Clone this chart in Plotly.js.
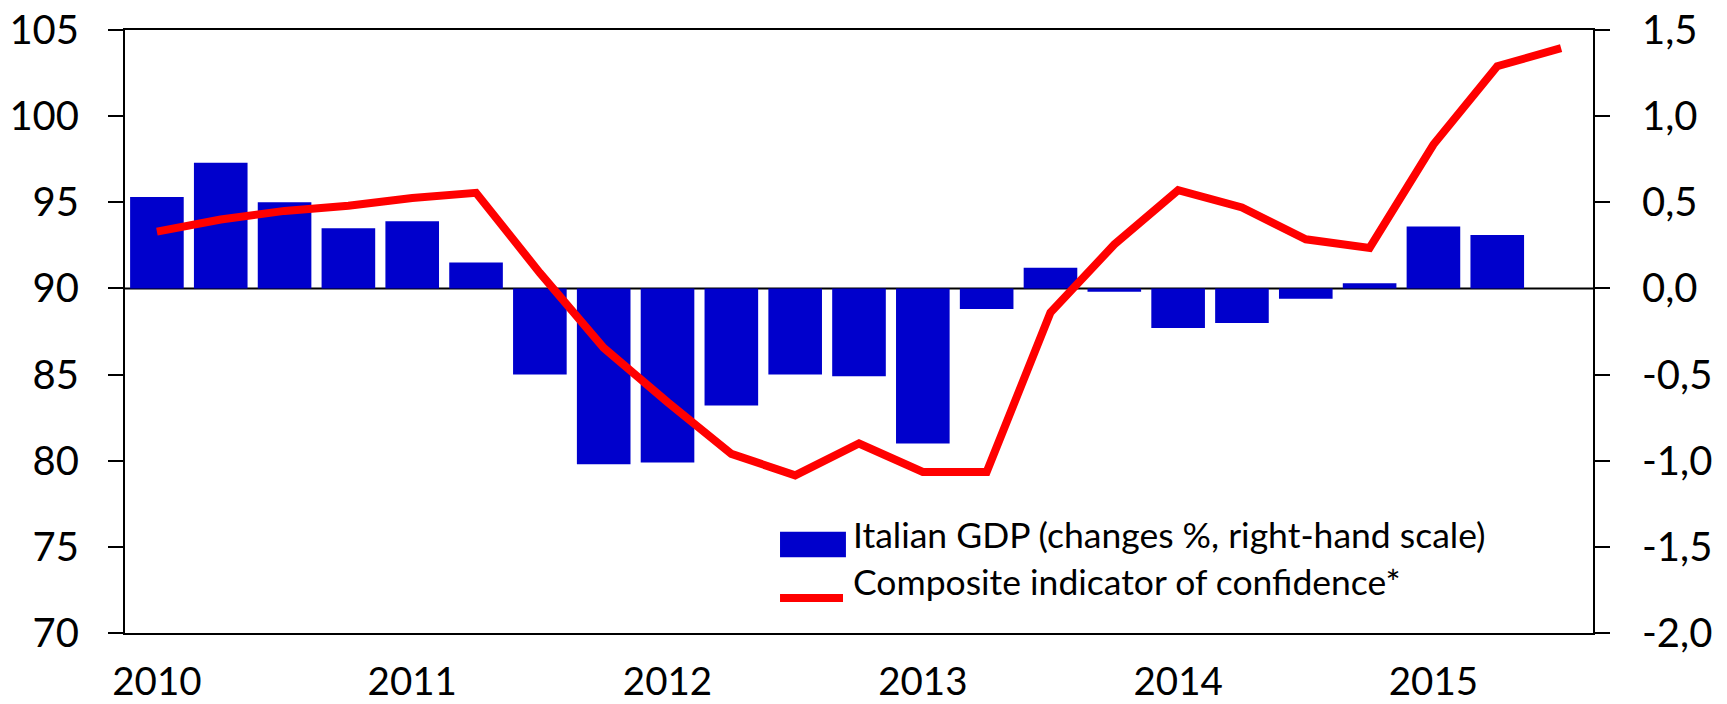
<!DOCTYPE html>
<html>
<head>
<meta charset="utf-8">
<script src="https://cdn.plot.ly/plotly-3.0.1.min.js"></script>
<style>
  html, body { margin: 0; padding: 0; background: #ffffff; }
  #chart { width: 1727px; height: 704px; }
</style>
</head>
<body>
<div id="chart"></div>
<script>
// ---- data ----
const quarters = [
  "2010 Q1", "2010 Q2", "2010 Q3", "2010 Q4",
  "2011 Q1", "2011 Q2", "2011 Q3", "2011 Q4",
  "2012 Q1", "2012 Q2", "2012 Q3", "2012 Q4",
  "2013 Q1", "2013 Q2", "2013 Q3", "2013 Q4",
  "2014 Q1", "2014 Q2", "2014 Q3", "2014 Q4",
  "2015 Q1", "2015 Q2", "2015 Q3"
];
// Italian GDP, quarterly % change (right-hand scale), 2010 Q1 - 2015 Q2
const gdpQuarters = quarters.slice(0, 22);
const gdpChange = [
  0.53, 0.73, 0.50, 0.35, 0.39, 0.15, -0.50, -1.02, -1.01, -0.68, -0.50,
  -0.51, -0.90, -0.12, 0.12, -0.02, -0.23, -0.20, -0.06, 0.03, 0.36, 0.31
];
// Composite indicator of confidence (left-hand scale), 2010 Q1 - 2015 Q3
const confidence = [
  93.3, 94.0, 94.5, 94.8, 95.25, 95.55, 90.9, 86.55, 83.4, 80.4, 79.15,
  81.0, 79.35, 79.35, 88.6, 92.55, 95.7, 94.7, 92.85, 92.35, 98.35, 102.9, 103.95
];
const yearTickVals = ["2010 Q1", "2011 Q1", "2012 Q1", "2013 Q1", "2014 Q1", "2015 Q1"];
const yearTickText = ["2010", "2011", "2012", "2013", "2014", "2015"];
const leftTickVals = [70, 75, 80, 85, 90, 95, 100, 105];
const leftTickText = ["70", "75", "80", "85", "90", "95", "100", "105"];
const rightTickVals = [-2.0, -1.5, -1.0, -0.5, 0.0, 0.5, 1.0, 1.5];
const rightTickText = ["-2,0", "-1,5", "-1,0", "-0,5", "0,0", "0,5", "1,0", "1,5"];
const legendLabels = [
  "Italian GDP (changes %, right-hand scale)",
  "Composite indicator of confidence*"
];

// ---- styles ----
const FONT = "Lato, 'Open Sans', 'DejaVu Sans', sans-serif";
const BLUE = "#0000CC";
const RED = "#FF0000";
const TICK_SIZE = 40;

const traces = [
  {
    type: "bar",
    name: legendLabels[0],
    x: gdpQuarters,
    y: gdpChange,
    yaxis: "y",
    marker: { color: BLUE, line: { width: 0 } },
    hoverinfo: "x+y"
  },
  {
    type: "scatter",
    mode: "lines",
    name: legendLabels[1],
    x: quarters,
    y: confidence,
    yaxis: "y2",
    line: { color: RED, width: 8, shape: "linear" },
    hoverinfo: "x+y"
  }
];

const axisLine = { showline: true, linecolor: "#000000", linewidth: 2 };

const layout = {
  width: 1727,
  height: 704,
  paper_bgcolor: "#ffffff",
  plot_bgcolor: "#ffffff",
  margin: { l: 125, r: 134, t: 30, b: 71, pad: 0 },
  showlegend: false,
  bargap: 0.16,
  font: { family: FONT, size: TICK_SIZE, color: "#000000" },
  xaxis: Object.assign({}, axisLine, {
    type: "category",
    categoryorder: "array",
    categoryarray: quarters,
    range: [-0.5, 22.5],
    mirror: true,
    ticks: "",
    tickmode: "array",
    tickvals: yearTickVals,
    ticktext: yearTickText,
    tickfont: { family: FONT, size: 38.5, color: "#000000" },
    ticklabelstandoff: 14,
    showgrid: false,
    zeroline: false
  }),
  yaxis: Object.assign({}, axisLine, {
    side: "right",
    range: [-2.0, 1.5],
    tickmode: "array",
    tickvals: rightTickVals,
    ticktext: rightTickText,
    ticks: "outside",
    ticklen: 15,
    tickwidth: 2,
    tickcolor: "#000000",
    tickfont: { family: FONT, size: TICK_SIZE, color: "#000000" },
    ticklabelstandoff: 24,
    showgrid: false,
    zeroline: false
  }),
  yaxis2: Object.assign({}, axisLine, {
    overlaying: "y",
    side: "left",
    range: [70, 105],
    tickmode: "array",
    tickvals: leftTickVals,
    ticktext: leftTickText,
    ticks: "outside",
    ticklen: 15,
    tickwidth: 2,
    tickcolor: "#000000",
    tickfont: { family: FONT, size: TICK_SIZE, color: "#000000" },
    ticklabelstandoff: 21,
    showgrid: false,
    zeroline: false
  }),
  shapes: [
    // zero line of the GDP scale (= 90 on the left scale)
    { type: "line", xref: "paper", yref: "y", x0: 0, x1: 1, y0: 0, y1: 0,
      line: { color: "#000000", width: 2 }, layer: "below" },
    // legend swatches
    { type: "rect", xref: "paper", yref: "paper",
      x0: 0.4462, x1: 0.4911, y0: 0.1255, y1: 0.168,
      fillcolor: BLUE, line: { width: 0 } },
    { type: "line", xref: "paper", yref: "paper",
      x0: 0.4462, x1: 0.4891, y0: 0.058, y1: 0.058,
      line: { color: RED, width: 8 } }
  ],
  annotations: [
    { xref: "paper", yref: "paper", x: 0.4946, y: 0.163, xanchor: "left", yanchor: "middle",
      text: legendLabels[0], showarrow: false,
      font: { family: FONT, size: 35.5, color: "#000000" } },
    { xref: "paper", yref: "paper", x: 0.4946, y: 0.085, xanchor: "left", yanchor: "middle",
      text: legendLabels[1], showarrow: false,
      font: { family: FONT, size: 35.5, color: "#000000" } }
  ]
};

Plotly.newPlot("chart", traces, layout, { displayModeBar: false, staticPlot: true });
</script>
</body>
</html>
